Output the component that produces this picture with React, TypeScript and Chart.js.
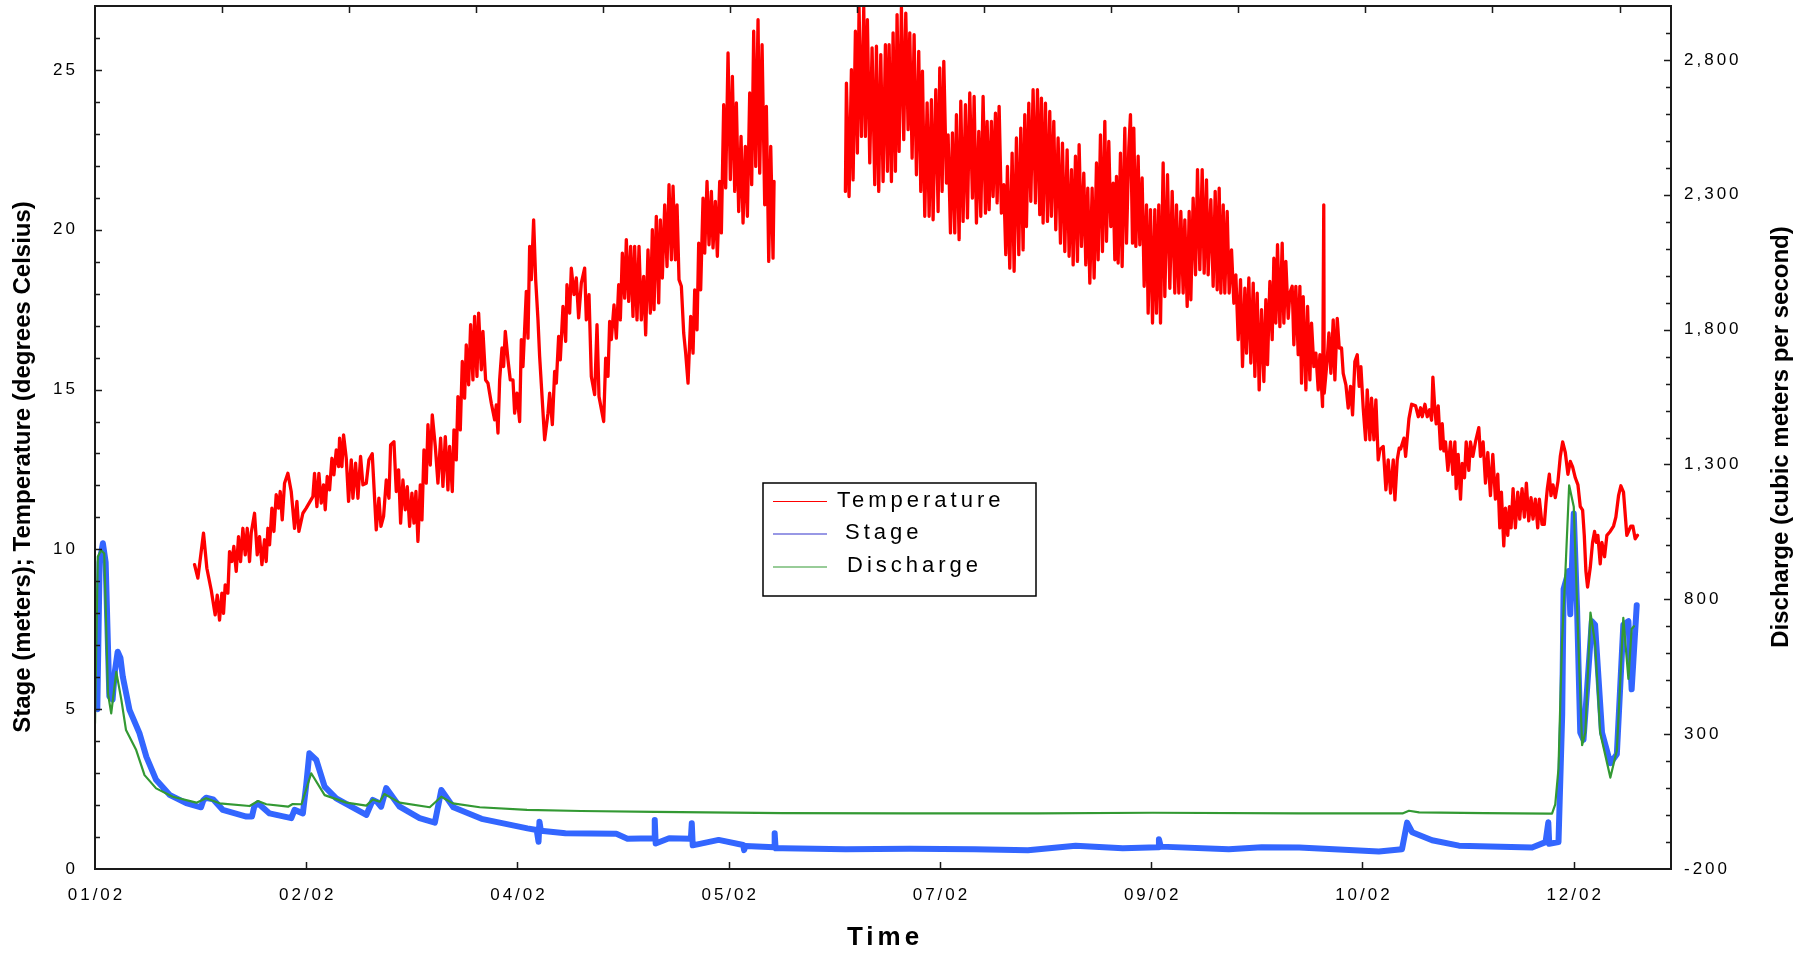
import React, { useEffect, useRef } from 'react';
import { Chart, registerables } from 'chart.js';

Chart.register(...registerables);

// ---------------- data ----------------
// x values are days since the first labelled tick (01/02)
const xTickLabels = ['01/02', '02/02', '04/02', '05/02', '07/02', '09/02', '10/02', '12/02'];
const xTickStepDays = 45.625;
const topTickStepDays = 27.44;
const xMaxDays = 340.4;
const leftTicks = [0, 5, 10, 15, 20, 25];
const rightTicks = [-200, 300, 800, 1300, 1800, 2300, 2800];

const stageDays = [
  0.5, 1.0, 1.7, 2.3, 3.1, 3.8, 4.3, 4.9, 5.5, 6.0, 7.45, 9.6, 11.1, 13.2, 16.1, 19.7, 22.9, 23.4, 24.0, 25.5,
  27.6, 32.7, 33.9, 34.4, 35.2, 37.7, 42.4, 43.1, 44.9, 45.6, 46.3, 47.8, 49.6, 52.1, 58.6, 60.0, 60.9, 61.8, 62.9, 65.8,
  70.1, 73.4, 74.8, 77.4, 83.5, 93.4, 95.4, 95.8, 96.0, 96.3, 101.6, 112.6, 115.0, 120.8, 120.9, 121.1, 124.0, 128.7, 128.9, 129.1,
  134.7, 140.0, 140.2, 140.5, 146.7, 146.8, 147.0, 148.5, 162.2, 176.0, 190.0, 201.5, 211.8, 222.0, 229.6, 229.8, 230.2, 244.9, 252.0, 260.1,
  277.3, 282.3, 283.4, 284.5, 288.8, 294.6, 310.4, 313.3, 313.9, 314.1, 316.1, 316.9, 317.2, 318.3, 318.65, 319.4, 320.1, 320.8, 321.5, 323.3,
  324.0, 325.5, 327.3, 328.7, 330.1, 331.2, 331.9, 333.0,
];
const stageValues = [
  5.0, 9.6, 10.19, 9.6, 5.4, 5.3, 6.2, 6.8, 6.6, 6.02, 4.98, 4.25, 3.51, 2.79, 2.32, 2.06, 1.93, 2.15, 2.23, 2.18,
  1.85, 1.64, 1.64, 1.95, 2.06, 1.74, 1.59, 1.85, 1.74, 2.6, 3.62, 3.41, 2.58, 2.21, 1.69, 2.16, 2.1, 1.95, 2.53, 1.95,
  1.59, 1.45, 2.47, 1.93, 1.57, 1.27, 1.22, 0.85, 1.48, 1.2, 1.12, 1.1, 0.95, 0.96, 1.53, 0.8, 0.96, 0.95, 1.43, 0.74,
  0.91, 0.75, 0.59, 0.72, 0.68, 1.12, 0.65, 0.65, 0.62, 0.63, 0.62, 0.59, 0.73, 0.65, 0.68, 0.93, 0.7, 0.62, 0.68, 0.67,
  0.55, 0.62, 1.45, 1.15, 0.9, 0.73, 0.67, 0.84, 1.46, 0.79, 0.84, 4.83, 8.76, 9.32, 7.97, 11.12, 8.2, 4.27, 4.04, 7.75,
  7.64, 4.27, 3.31, 3.59, 7.64, 7.75, 5.62, 8.25,
];

const dischargeDays = [
  0.0, 0.6, 1.3, 2.0, 2.8, 3.5, 4.6, 5.7, 6.7, 8.9, 10.7, 13.2, 16.8, 21.9, 24.0, 26.9, 33.4, 35.2, 37.0, 41.7,
  42.7, 44.6, 46.7, 49.6, 54.3, 58.6, 60.0, 61.5, 62.5, 65.8, 72.3, 74.8, 77.3, 83.1, 93.3, 105.0, 120.9, 148.5, 175.0, 203.6,
  228.4, 260.0, 282.4, 283.8, 286.0, 300.0, 314.0, 314.7, 315.4, 316.1, 316.85, 317.6, 318.4, 319.4, 320.4, 321.2, 321.9, 323.0, 324.0, 325.1,
  327.3, 328.7, 330.1, 331.2, 331.9, 332.4,
];
const dischargeValues = [
  340, 958, 982, 970, 451, 377, 531, 426, 315, 241, 148, 99, 68, 46, 62, 43.5, 33.5, 52, 40, 31,
  41, 40, 155, 74, 46, 35, 58, 49.5, 78, 46, 29, 68, 43.5, 29, 19, 15, 12, 7, 6.5, 6.5,
  8.5, 6, 6, 16, 10, 7, 5, 5, 39.5, 172.6, 638, 904, 1223, 1143, 638, 259, 306, 751, 638, 306,
  139, 239, 731, 505, 690, 700,
];

const temperatureDays = [
  21.50, 22.22, 23.44, 24.16, 25.10, 25.96, 26.40, 26.90, 27.40, 27.76, 28.12, 28.70, 29.06, 29.56, 29.99, 30.50, 31.00, 31.44, 31.94, 32.45,
  32.88, 33.38, 33.74, 34.46, 35.04, 35.54, 36.05, 36.62, 36.98, 37.34, 37.70, 38.21, 38.64, 39.14, 39.65, 40.01, 40.44, 40.94, 41.66, 42.38,
  43.10, 43.61, 44.04, 44.90, 45.62, 47.06, 47.42, 47.93, 48.36, 48.87, 49.37, 49.73, 50.16, 50.67, 51.17, 51.60, 52.11, 52.61, 52.83, 53.33,
  53.69, 54.27, 54.77, 55.35, 55.71, 56.28, 56.79, 57.36, 57.87, 58.59, 59.16, 59.88, 60.75, 61.32, 61.76, 62.33, 62.91, 63.49, 63.85, 64.57,
  65.07, 65.57, 66.01, 66.51, 67.01, 67.45, 67.95, 68.45, 68.89, 69.32, 69.75, 70.26, 70.62, 71.05, 71.55, 71.91, 72.42, 72.85, 73.50, 74.07,
  74.65, 75.15, 75.66, 76.23, 76.59, 77.17, 77.53, 78.03, 78.39, 78.90, 79.33, 79.83, 80.19, 80.70, 81.13, 81.63, 81.99, 82.50, 82.86, 83.44,
  83.79, 84.37, 84.88, 85.60, 86.32, 86.68, 87.04, 87.40, 87.90, 88.26, 88.62, 89.20, 89.70, 90.28, 90.64, 91.14, 91.72, 92.08, 92.44, 93.16,
  93.52, 93.88, 94.24, 94.74, 95.18, 95.68, 96.04, 97.12, 97.84, 98.20, 98.78, 99.28, 99.64, 100.14, 100.50, 101.08, 101.66, 101.94, 102.52, 102.88,
  103.46, 103.96, 104.46, 105.04, 105.76, 106.12, 106.70, 107.20, 107.92, 108.43, 108.86, 109.87, 110.30, 110.80, 111.16, 111.52, 112.10, 112.60, 113.11, 113.47,
  113.90, 114.40, 114.76, 115.27, 115.70, 116.20, 116.56, 117.07, 117.50, 118.00, 118.51, 118.94, 119.44, 119.95, 120.38, 120.74, 121.24, 121.75, 122.11, 122.54,
  123.05, 123.55, 123.98, 124.49, 124.85, 125.35, 125.71, 126.14, 126.65, 127.15, 127.58, 128.09, 128.66, 129.17, 129.53, 130.03, 130.39, 130.82, 131.33, 131.69,
  132.19, 132.62, 133.13, 133.49, 133.99, 134.42, 134.93, 135.29, 135.79, 136.22, 136.73, 137.23, 137.67, 138.17, 138.53, 139.03, 139.54, 139.97, 140.47, 140.91,
  141.41, 141.84, 142.27, 142.71, 143.21, 143.57, 144.08, 144.65, 145.01, 145.52, 145.95, 146.45, 146.67,
  154.0,
  162.08, 162.30, 162.87, 163.38, 163.74, 164.24, 164.67, 165.03, 165.54, 166.04, 166.40, 166.83, 167.34, 167.84, 168.42, 168.78, 169.28, 169.72, 170.22, 170.72,
  171.16, 171.52, 172.02, 172.38, 172.88, 173.24, 173.68, 174.18, 174.68, 175.12, 175.62, 175.98, 176.49, 176.92, 177.42, 177.92, 178.36, 178.72, 179.22, 179.73,
  180.16, 180.66, 181.02, 181.60, 182.10, 182.46, 182.97, 183.33, 183.90, 184.26, 184.77, 185.20, 185.70, 186.06, 186.64, 187.00, 187.50, 188.01, 188.44, 188.94,
  189.52, 189.88, 190.38, 190.89, 191.32, 191.82, 192.33, 192.69, 193.12, 193.62, 193.98, 194.49, 194.85, 195.28, 195.78, 196.29, 196.72, 197.08, 197.58, 198.09,
  198.52, 199.02, 199.53, 199.96, 200.46, 200.82, 201.18, 201.69, 202.12, 202.62, 203.13, 203.56, 204.06, 204.42, 204.78, 205.29, 205.72, 206.22, 206.58, 207.09,
  207.52, 208.02, 208.53, 208.96, 209.47, 209.97, 210.40, 210.91, 211.27, 211.77, 212.20, 212.56, 213.07, 213.57, 214.00, 214.43, 214.87, 215.37, 215.80, 216.31,
  216.67, 217.17, 217.60, 218.11, 218.47, 218.97, 219.40, 219.91, 220.27, 220.63, 220.99, 221.49, 221.85, 222.43, 222.79, 223.29, 223.65, 224.09, 224.37, 224.81,
  225.31, 225.67, 226.17, 226.61, 227.11, 227.47, 227.97, 228.41, 228.91, 229.27, 229.77, 230.14, 230.71, 231.07, 231.65, 232.15, 232.66, 233.23, 233.59, 234.10,
  234.53, 235.03, 235.39, 235.90, 236.33, 236.69, 237.19, 237.70, 238.13, 238.63, 239.14, 239.57, 240.07, 240.43, 241.01, 241.51, 241.95, 242.38, 242.81, 243.17,
  243.68, 244.03, 244.54, 244.97, 245.48, 245.98, 246.41, 246.92, 247.42, 247.85, 248.36, 248.72, 249.22, 249.65, 250.16, 250.52, 251.02, 251.45, 251.96, 252.46,
  252.89, 253.25, 253.76, 254.26, 254.62, 255.05, 255.41, 255.92, 256.42, 256.78, 257.21, 257.72, 258.08, 258.58, 258.94, 259.37, 259.88, 260.24, 260.60, 260.96,
  261.54, 261.90, 262.40, 262.76, 263.26, 263.70, 264.20, 264.56, 265.14, 265.40, 265.50, 266.14, 266.51, 266.94, 267.44, 267.80, 268.31, 268.74, 269.24, 269.60,
  270.18, 270.68, 271.18, 271.62, 272.12, 272.63, 273.06, 273.42, 273.92, 274.43, 274.79, 275.36, 275.72, 276.23, 276.66, 277.16, 277.52, 278.24, 278.82, 279.32,
  279.83, 280.41, 280.77, 281.27, 281.70, 282.00, 282.72, 283.08, 283.80, 284.38, 285.24, 285.81, 286.32, 286.67, 287.25, 287.75, 288.26, 288.69, 288.97, 289.40,
  289.69, 290.12, 290.63, 290.99, 291.34, 291.70, 292.21, 292.78, 293.28, 293.72, 294.00, 294.43, 294.94, 295.30, 295.80, 296.16, 296.73, 297.09, 297.60, 298.17,
  298.89, 299.25, 299.82, 300.33, 300.83, 301.40, 301.91, 302.48, 302.98, 303.42, 303.77, 304.28, 304.64, 305.14, 305.50, 305.86, 306.29, 306.79, 307.30, 307.73,
  308.23, 308.73, 309.16, 309.67, 310.17, 310.60, 311.10, 311.61, 311.97, 312.54, 313.04, 313.40, 313.69, 314.12, 314.48, 314.91, 315.41, 315.99, 316.49, 317.00,
  317.57, 318.14, 318.65, 319.15, 319.73, 320.30, 320.80, 321.31, 321.67, 322.02, 322.38, 322.96, 323.46, 323.89, 324.25, 324.61, 325.11, 325.47, 326.05, 326.55,
  327.27, 327.99, 328.49, 329.07, 329.57, 330.14, 330.86, 331.22, 331.72, 332.16, 332.66, 333.16,
];
const temperatureValues = [
  9.52, 9.10, 10.51, 9.41, 8.73, 7.95, 8.57, 7.79, 8.63, 8.00, 8.89, 8.63, 9.93, 9.62, 10.09, 9.31, 10.40, 9.62, 10.66, 9.83,
  10.66, 9.62, 10.51, 11.13, 9.83, 10.40, 9.52, 10.30, 9.62, 10.66, 10.14, 11.29, 10.56, 11.71, 11.29, 11.81, 10.92, 12.07, 12.38, 11.81,
  10.66, 11.50, 10.56, 11.13, 11.29, 11.65, 12.38, 11.34, 12.38, 11.45, 12.02, 11.24, 12.28, 11.86, 12.85, 12.33, 13.11, 12.59, 13.48, 12.59,
  13.58, 12.85, 11.50, 12.80, 11.60, 12.70, 11.60, 12.91, 12.02, 12.07, 12.80, 12.99, 10.61, 11.60, 10.72, 11.03, 12.17, 11.60, 13.27, 13.37,
  11.81, 12.49, 10.82, 12.17, 11.24, 11.96, 10.72, 11.76, 10.82, 11.81, 10.25, 12.02, 10.92, 13.11, 12.07, 13.90, 12.64, 14.21, 13.22, 12.07,
  13.48, 11.97, 13.53, 11.86, 13.22, 11.81, 13.74, 12.80, 14.78, 13.74, 15.88, 14.73, 16.40, 15.15, 17.03, 15.30, 17.29, 15.41, 17.39, 15.62,
  16.82, 15.30, 15.20, 14.57, 14.05, 14.52, 13.64, 15.30, 16.30, 15.72, 16.82, 15.93, 15.30, 15.30, 14.26, 14.89, 14.00, 16.56, 15.72, 18.07,
  16.61, 19.48, 18.44, 20.31, 18.44, 17.18, 16.03, 13.43, 14.26, 14.89, 13.90, 15.57, 15.20, 16.66, 15.93, 17.60, 16.51, 18.28, 17.39, 18.80,
  17.97, 18.49, 17.24, 18.33, 18.80, 17.18, 17.97, 15.41, 14.84, 17.03, 14.78, 14.00, 15.98, 15.41, 17.13, 16.56, 17.65, 16.61, 18.28, 17.18,
  19.27, 17.86, 19.69, 17.76, 19.48, 17.29, 19.48, 17.18, 19.48, 17.18, 18.54, 16.71, 19.37, 17.39, 20.00, 17.50, 20.42, 17.71, 20.31, 18.49,
  20.78, 18.85, 21.41, 19.06, 21.36, 19.06, 20.78, 18.44, 18.23, 16.77, 16.14, 15.20, 17.29, 16.14, 18.12, 16.87, 19.58, 18.12, 20.99, 19.27,
  21.51, 19.53, 21.20, 19.43, 20.89, 19.17, 21.51, 19.90, 23.91, 21.31, 25.53, 21.57, 24.80, 21.20, 23.97, 20.57, 22.92, 20.21, 22.61, 20.42,
  24.28, 21.41, 26.21, 21.98, 26.57, 21.77, 25.79, 20.78, 23.86, 19.01, 22.61, 19.11, 21.51,
  null,
  21.20, 24.59, 21.04, 25.01, 21.56, 26.21, 22.40, 26.95, 22.92, 26.95, 22.92, 26.57, 22.09, 25.69, 21.41, 25.74, 21.20, 25.48, 21.51, 25.79,
  21.83, 25.79, 21.51, 26.16, 21.83, 26.73, 22.45, 26.95, 22.82, 26.78, 23.13, 26.16, 22.24, 26.10, 21.72, 25.58, 21.20, 24.96, 20.42, 23.97,
  20.42, 24.07, 20.31, 24.38, 20.57, 25.06, 21.20, 25.27, 21.46, 22.97, 19.90, 23.03, 19.90, 23.60, 19.69, 24.02, 20.26, 23.91, 20.37, 24.28,
  20.99, 24.17, 20.21, 23.08, 20.42, 24.17, 20.52, 23.39, 20.63, 23.39, 21.04, 23.65, 20.84, 23.86, 20.52, 21.41, 19.22, 21.98, 18.80, 22.40,
  18.70, 22.87, 19.22, 23.18, 19.37, 23.60, 20.10, 23.96, 20.89, 24.38, 20.84, 24.38, 20.47, 24.12, 20.21, 23.96, 20.26, 23.70, 20.42, 23.39,
  20.00, 22.87, 19.58, 22.71, 19.32, 22.50, 19.17, 21.88, 18.90, 22.30, 19.01, 22.66, 19.48, 21.77, 18.90, 21.30, 18.33, 21.30, 18.49, 22.09,
  19.06, 22.97, 19.32, 23.39, 19.64, 22.76, 20.10, 21.46, 19.06, 21.67, 18.96, 22.40, 18.85, 23.18, 19.58, 22.56, 23.60, 19.58, 23.18, 19.48,
  22.30, 19.53, 21.62, 18.23, 20.78, 17.39, 20.63, 17.08, 20.63, 17.39, 20.78, 17.08, 22.09, 17.91, 21.72, 18.17, 21.20, 18.02, 20.78, 18.02,
  20.57, 18.02, 20.31, 17.60, 20.57, 17.81, 20.99, 18.59, 21.88, 18.75, 21.88, 18.64, 21.56, 18.59, 20.94, 18.23, 21.20, 18.12, 21.30, 18.02,
  20.78, 18.02, 20.57, 18.02, 19.37, 17.70, 18.59, 16.56, 18.44, 15.72, 18.17, 16.14, 18.49, 15.83, 18.33, 15.41, 18.02, 14.99, 17.50, 15.25,
  17.81, 15.78, 18.38, 16.56, 19.11, 17.08, 19.53, 16.97, 19.58, 17.08, 19.01, 17.23, 18.02, 18.23, 16.40, 18.23, 16.09, 18.23, 15.20, 17.91,
  14.99, 17.60, 15.30, 17.08, 15.72, 16.14, 14.99, 16.09, 14.47, 20.78, 14.89, 15.93, 16.77, 15.51, 17.18, 15.30, 17.23, 16.30, 16.30, 15.51,
  15.15, 14.42, 15.10, 14.21, 15.88, 16.09, 15.10, 15.72, 14.42, 13.43, 14.99, 13.43, 14.73, 13.43, 14.68, 12.80, 13.12, 13.22, 11.86, 12.80,
  11.76, 12.80, 11.55, 12.80, 13.17, 13.14, 13.48, 12.91, 14.09, 14.54, 14.49, 14.15, 14.43, 14.15, 14.54, 14.15, 14.37, 14.04, 15.39, 14.37,
  13.93, 14.49, 13.14, 13.93, 13.08, 13.36, 12.47, 13.36, 12.35, 13.36, 11.90, 12.97, 11.57, 12.69, 12.24, 13.36, 12.47, 13.36, 12.91, 13.36,
  13.81, 12.91, 13.36, 12.07, 13.03, 11.68, 12.97, 11.57, 12.35, 10.67, 11.79, 10.11, 11.29, 10.44, 11.34, 10.67, 11.90, 10.67, 11.79, 10.95,
  11.90, 11.01, 12.07, 10.89, 11.62, 10.95, 11.57, 10.67, 11.57, 10.78, 10.78, 11.46, 11.90, 12.35, 11.68, 12.02, 11.62, 12.13, 12.91, 13.36,
  13.03, 12.35, 12.75, 12.58, 12.24, 12.02, 11.34, 11.23, 10.44, 9.32, 8.82, 9.43, 10.22, 10.56, 10.22, 10.44, 9.55, 10.22, 9.77, 10.44,
  10.56, 10.73, 11.01, 11.68, 11.99, 11.79, 10.44, 10.56, 10.73, 10.73, 10.33, 10.44,
];

// ---------------- drawing helpers ----------------
const TICK_FONT = '17px "Liberation Sans", Arial, sans-serif';
const TICK_SPACING = 3;
const TITLE_FONT = 'bold 24px "Liberation Sans Narrow", "Liberation Sans", Arial, sans-serif';
const TIME_FONT = 'bold 26px "Liberation Sans", Arial, sans-serif';
const LEGEND_FONT = '22px "Liberation Sans", Arial, sans-serif';

function spacedText(ctx: CanvasRenderingContext2D, text: string, x: number, y: number, align: string, spacing: number) {
  const c: any = ctx;
  c.letterSpacing = '0px';
  const w0 = ctx.measureText(text).width;
  const total = w0 + spacing * Math.max(0, text.length - 1);
  let left = x;
  if (align === 'center') left = x - total / 2;
  else if (align === 'right') left = x - total;
  c.letterSpacing = spacing + 'px';
  ctx.textAlign = 'left';
  ctx.fillText(text, left, y);
  c.letterSpacing = '0px';
}

const frameAndTextPlugin = {
  id: 'frameAndText',
  afterDraw(chart: any) {
    const { ctx, chartArea: a, scales } = chart;
    const sx = scales.x;
    const yl = scales.y;
    const yr = scales.y2;
    ctx.save();
    ctx.strokeStyle = '#1a1a1a';
    ctx.lineWidth = 2;
    ctx.strokeRect(a.left, a.top, a.right - a.left, a.bottom - a.top);

    ctx.lineWidth = 1.5;
    ctx.beginPath();
    for (let v = 1; v < 27; v++) {
      const y = Math.round(yl.getPixelForValue(v)) + 0.5;
      const len = leftTicks.includes(v) ? 7 : 5;
      ctx.moveTo(a.left, y);
      ctx.lineTo(a.left + len, y);
    }
    for (let v = -100; v < 3000; v += 100) {
      const y = Math.round(yr.getPixelForValue(v)) + 0.5;
      const len = rightTicks.includes(v) ? 7 : 5;
      ctx.moveTo(a.right, y);
      ctx.lineTo(a.right - len, y);
    }
    xTickLabels.forEach((_, i) => {
      if (i === 0) return;
      const x = Math.round(sx.getPixelForValue(i * xTickStepDays)) + 0.5;
      ctx.moveTo(x, a.bottom);
      ctx.lineTo(x, a.bottom - 7);
    });
    for (let d = topTickStepDays; d < xMaxDays; d += topTickStepDays) {
      const x = Math.round(sx.getPixelForValue(d)) + 0.5;
      ctx.moveTo(x, a.top);
      ctx.lineTo(x, a.top + 7);
    }
    ctx.stroke();

    ctx.fillStyle = '#000';
    ctx.font = TICK_FONT;
    ctx.textBaseline = 'middle';
    leftTicks.forEach((v) => {
      spacedText(ctx, String(v), a.left - 20, yl.getPixelForValue(v), 'right', TICK_SPACING);
    });
    rightTicks.forEach((v) => {
      spacedText(ctx, v.toLocaleString('en-US'), a.right + 13, yr.getPixelForValue(v), 'left', TICK_SPACING);
    });
    xTickLabels.forEach((lab, i) => {
      spacedText(ctx, lab, sx.getPixelForValue(i * xTickStepDays), a.bottom + 26, 'center', TICK_SPACING);
    });

    ctx.font = TIME_FONT;
    spacedText(ctx, 'Time', (a.left + a.right) / 2, 938, 'center', 4);

    ctx.font = TITLE_FONT;
    ctx.save();
    ctx.translate(23, 467);
    ctx.rotate(-Math.PI / 2);
    spacedText(ctx, 'Stage (meters); Temperature (degrees Celsius)', 0, 0, 'center', 0);
    ctx.restore();
    ctx.save();
    ctx.translate(1781, 437);
    ctx.rotate(-Math.PI / 2);
    spacedText(ctx, 'Discharge (cubic meters per second)', 0, 0, 'center', 0);
    ctx.restore();

    // legend
    const lx = 763, ly = 483, lw = 273, lh = 113;
    ctx.fillStyle = '#fff';
    ctx.fillRect(lx, ly, lw, lh);
    ctx.strokeStyle = '#000';
    ctx.lineWidth = 1.5;
    ctx.strokeRect(lx, ly, lw, lh);
    const legendColors = ['#FF0000', '#3333CC', '#339933'];
    const lineY = [501.5, 534, 567];
    const baseY = [506.5, 539, 571.5];
    const textX = [837, 845, 847];
    chart.data.datasets.forEach((ds: any, i: number) => {
      ctx.strokeStyle = legendColors[i];
      ctx.lineWidth = 1.2;
      ctx.beginPath();
      ctx.moveTo(773, lineY[i]);
      ctx.lineTo(827, lineY[i]);
      ctx.stroke();
      ctx.fillStyle = '#000';
      ctx.font = LEGEND_FONT;
      ctx.textBaseline = 'alphabetic';
      spacedText(ctx, ds.label, textX[i], baseY[i], 'left', 4);
    });
    ctx.restore();
  },
};

export default function App() {
  const ref = useRef<HTMLCanvasElement | null>(null);

  useEffect(() => {
    if (!ref.current) return;
    const tempData = temperatureDays.map((d, i) => ({ x: d, y: temperatureValues[i] }));
    const stageData = stageDays.map((d, i) => ({ x: d, y: stageValues[i] }));
    const dischargeData = dischargeDays.map((d, i) => ({ x: d, y: dischargeValues[i] }));
    const chart = new Chart(ref.current, {
      type: 'line',
      data: {
        datasets: [
          { label: 'Temperature', data: tempData, borderColor: '#FF0000', backgroundColor: '#FF0000', borderWidth: 3.3, yAxisID: 'y', order: 1, spanGaps: false },
          { label: 'Stage', data: stageData, borderColor: '#3366FF', backgroundColor: '#3366FF', borderWidth: 6, yAxisID: 'y', order: 3 },
          { label: 'Discharge', data: dischargeData, borderColor: '#339933', backgroundColor: '#339933', borderWidth: 2.2, yAxisID: 'y2', order: 2 },
        ],
      },
      options: {
        animation: false,
        responsive: false,
        devicePixelRatio: 1,
        layout: { padding: { left: 95, right: 134, top: 6, bottom: 86 } },
        elements: {
          point: { radius: 0, hoverRadius: 0 },
          line: { tension: 0, borderJoinStyle: 'round', borderCapStyle: 'round' },
        },
        plugins: { legend: { display: false }, tooltip: { enabled: false } },
        events: [],
        scales: {
          x: { type: 'linear', min: 0, max: xMaxDays, display: false },
          y: { type: 'linear', min: 0, max: 27, display: false },
          y2: { type: 'linear', min: -200, max: 3000, display: false, position: 'right' },
        },
      } as any,
      plugins: [frameAndTextPlugin],
    });
    return () => chart.destroy();
  }, []);

  return (
    <div style={{ position: 'absolute', left: 0, top: 0, width: 1805, height: 955, background: '#fff' }}>
      <canvas ref={ref} width={1805} height={955} style={{ display: 'block', width: 1805, height: 955 }} />
    </div>
  );
}
